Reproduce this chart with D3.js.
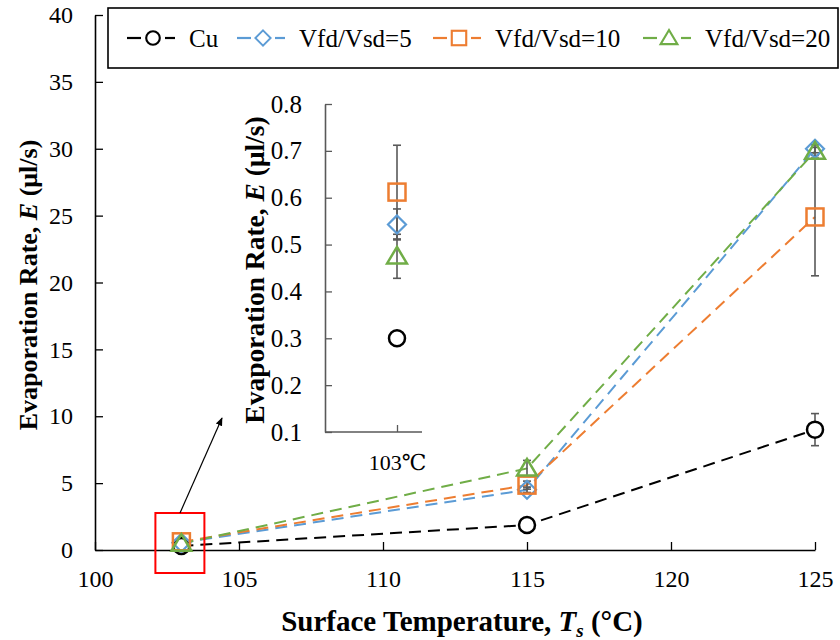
<!DOCTYPE html>
<html>
<head>
<meta charset="utf-8">
<script src="https://cdn.jsdelivr.net/npm/d3@7"></script>
<style>
  html, body { margin: 0; padding: 0; background: #fff; }
  svg, svg text { font-family: "Liberation Serif", "Times New Roman", Tinos, "DejaVu Serif", serif !important; }
  svg text { fill: #000; }
</style>
</head>
<body>
<svg id="chart" width="840" height="640"></svg>
<script>
// Surface temperatures (°C)
const temps = [103, 115, 125];

// Series names
const seriesNames = ["Cu", "Vfd/Vsd=5", "Vfd/Vsd=10", "Vfd/Vsd=20"];

// Evaporation rate E (µl/s) per series
const cuValues  = [0.30, 1.87, 9.0];
const vfd5Values  = [0.543, 4.5, 30.0];
const vfd10Values = [0.612, 4.85, 24.9];
const vfd20Values = [0.475, 6.1, 29.8];

// Error magnitudes (µl/s)
const cuErrors    = [0.008, 0.15, 1.2];
const vfd5Errors  = [0.033, 0.2, 0.3];
const vfd10Errors = [0.1, 0.3, 4.4];
const vfd20Errors = [0.047, 0.6, 0.3];

// Axis ticks
const xTicks = [100, 105, 110, 115, 120, 125];
const yTicks = [0, 5, 10, 15, 20, 25, 30, 35, 40];
const insetTicks = [0.1, 0.2, 0.3, 0.4, 0.5, 0.6, 0.7, 0.8];
const insetCategory = ["103℃"];

const colors = ["#000000", "#5B9BD5", "#ED7D31", "#70AD47"];
const shapes = ["circle", "diamond", "square", "triangle"];
const FONT = "'Liberation Serif', 'Times New Roman', Tinos, 'DejaVu Serif', serif";

const series = seriesNames.map((name, i) => ({
  name,
  color: colors[i],
  shape: shapes[i],
  values: [cuValues, vfd5Values, vfd10Values, vfd20Values][i],
  errors: [cuErrors, vfd5Errors, vfd10Errors, vfd20Errors][i]
}));

const svg = d3.select("#chart").attr("font-family", FONT);

// ---------- main chart ----------
const x = d3.scaleLinear().domain([100, 125]).range([95, 815]);
const y = d3.scaleLinear().domain([0, 40]).range([550, 15]);

function drawMarker(g, shape, cx, cy, color, s) {
  s = s || 1;
  if (shape === "circle") {
    g.append("circle").attr("cx", cx).attr("cy", cy).attr("r", 8 * s)
      .attr("fill", "#fff").attr("stroke", color).attr("stroke-width", 2.5 * s);
  } else if (shape === "square") {
    const h = 8.5 * s;
    g.append("rect").attr("x", cx - h).attr("y", cy - h).attr("width", 2 * h).attr("height", 2 * h)
      .attr("fill", "none").attr("stroke", color).attr("stroke-width", 2.5 * s);
  } else if (shape === "diamond") {
    const h = 9 * s;
    g.append("path").attr("d", `M${cx},${cy - h}L${cx + h},${cy}L${cx},${cy + h}L${cx - h},${cy}Z`)
      .attr("fill", "none").attr("stroke", color).attr("stroke-width", 2.2 * s);
  } else if (shape === "triangle") {
    const h = 9 * s;
    g.append("path").attr("d", `M${cx},${cy - h * 1.05}L${cx + h * 1.1},${cy + h * 0.8}L${cx - h * 1.1},${cy + h * 0.8}Z`)
      .attr("fill", "none").attr("stroke", color).attr("stroke-width", 2.5 * s);
  }
}

function drawErrorBar(g, cx, yTop, yBot, cap) {
  g.append("line").attr("x1", cx).attr("x2", cx).attr("y1", yTop).attr("y2", yBot)
    .attr("stroke", "#595959").attr("stroke-width", 1.6);
  [yTop, yBot].forEach(yy => g.append("line")
    .attr("x1", cx - cap).attr("x2", cx + cap).attr("y1", yy).attr("y2", yy)
    .attr("stroke", "#595959").attr("stroke-width", 1.6));
}

function styleTicks(g, color) {
  g.attr("font-family", FONT);
  g.selectAll(".tick line").attr("stroke", color).attr("stroke-width", 1.3);
  g.selectAll(".tick text").attr("font-family", FONT).attr("fill", "#000");
}

// axes
const xAxis = d3.axisBottom(x).tickValues(xTicks).tickSizeInner(-8).tickSizeOuter(0).tickPadding(20);
const gx = svg.append("g").attr("transform", "translate(0,550)").call(xAxis);
gx.select(".domain").attr("stroke", "#000").attr("stroke-width", 1.6);
styleTicks(gx, "#000");
gx.selectAll(".tick text").attr("font-size", 24);

const yAxis = d3.axisLeft(y).tickValues(yTicks).tickSizeInner(-8).tickSizeOuter(0).tickPadding(22);
const gy = svg.append("g").attr("transform", "translate(95,0)").call(yAxis);
gy.select(".domain").attr("stroke", "#000").attr("stroke-width", 1.6);
styleTicks(gy, "#000");
gy.selectAll(".tick text").attr("font-size", 24);

// axis titles
const yt = svg.append("text").attr("transform", "translate(37,285) rotate(-90)")
  .attr("text-anchor", "middle").attr("font-size", 26).attr("font-weight", "bold");
yt.append("tspan").text("Evaporation  Rate, ");
yt.append("tspan").attr("font-style", "italic").text("E");
yt.append("tspan").text(" (μl/s)");

const xt = svg.append("text").attr("x", 462).attr("y", 631)
  .attr("text-anchor", "middle").attr("font-size", 29).attr("font-weight", "bold");
xt.append("tspan").text("Surface Temperature,  ");
xt.append("tspan").attr("font-style", "italic").text("T");
xt.append("tspan").attr("font-style", "italic").attr("font-size", 19).attr("dy", 6).text("s");
xt.append("tspan").attr("dy", -6).text(" (°C)");

// dashed series lines
const line = d3.line().x((d, i) => x(temps[i])).y(d => y(d));
const gLines = svg.append("g");
series.forEach(s => {
  gLines.append("path").datum(s.values).attr("d", line)
    .attr("fill", "none").attr("stroke", s.color).attr("stroke-width", 2)
    .attr("stroke-dasharray", "12,7");
});

// error bars
const gErr = svg.append("g");
series.forEach(s => {
  s.values.forEach((v, i) => {
    drawErrorBar(gErr, x(temps[i]), y(v + s.errors[i]), y(v - s.errors[i]), 4);
  });
});

// markers
const gMarks = svg.append("g");
series.forEach(s => {
  s.values.forEach((v, i) => drawMarker(gMarks, s.shape, x(temps[i]), y(v), s.color));
});

// highlight box and arrow toward the inset
svg.append("defs").append("marker").attr("id", "arrowHead")
  .attr("viewBox", "0 0 10 10").attr("refX", 9).attr("refY", 5)
  .attr("markerWidth", 7).attr("markerHeight", 7).attr("orient", "auto")
  .append("path").attr("d", "M0,1L10,5L0,9Z").attr("fill", "#000");
svg.append("rect").attr("x", x(103) - 26).attr("y", 513).attr("width", 49).attr("height", 60)
  .attr("fill", "none").attr("stroke", "#FF0000").attr("stroke-width", 2);
svg.append("line").attr("x1", 180).attr("y1", 513).attr("x2", 222).attr("y2", 418)
  .attr("stroke", "#000").attr("stroke-width", 1.2).attr("marker-end", "url(#arrowHead)");

// legend
svg.append("rect").attr("x", 108).attr("y", 8).attr("width", 730).attr("height", 60)
  .attr("fill", "#fff").attr("stroke", "#000").attr("stroke-width", 1.6);
const legendX = [127, 237, 433, 643];
series.forEach((s, i) => {
  const g = svg.append("g");
  const lx = legendX[i], ly = 38;
  g.append("line").attr("x1", lx).attr("x2", lx + 14).attr("y1", ly).attr("y2", ly)
    .attr("stroke", s.color).attr("stroke-width", 2.2);
  g.append("line").attr("x1", lx + 38).attr("x2", lx + 48).attr("y1", ly).attr("y2", ly)
    .attr("stroke", s.color).attr("stroke-width", 2.2);
  drawMarker(g, s.shape, lx + 26, ly, s.color, 0.85);
  g.append("text").attr("x", lx + 62).attr("y", ly + 9).attr("font-size", 25).text(s.name);
});

// ---------- inset ----------
const ix = d3.scaleBand().domain(insetCategory).range([325, 469]).paddingInner(0).paddingOuter(0);
const iy = d3.scaleLinear().domain([0.1, 0.8]).range([432, 104]);
const insetX = d => ix(d) + 72;

const ixAxis = d3.axisBottom(d3.scalePoint().domain(insetCategory).range([397, 397]))
  .tickSizeInner(-7).tickSizeOuter(0).tickPadding(22);
const gix = svg.append("g").attr("transform", "translate(0,432)").call(ixAxis);
gix.select(".domain").remove();
gix.append("line").attr("x1", 325).attr("x2", 422).attr("y1", 0).attr("y2", 0)
  .attr("stroke", "#595959").attr("stroke-width", 1.6);
styleTicks(gix, "#595959");
gix.selectAll(".tick text").attr("font-size", 22);

const iyAxis = d3.axisLeft(iy).tickValues(insetTicks).tickFormat(d3.format(".1f"))
  .tickSizeInner(-7).tickSizeOuter(0).tickPadding(23);
const giy = svg.append("g").attr("transform", "translate(325,0)").call(iyAxis);
giy.select(".domain").attr("stroke", "#595959").attr("stroke-width", 1.6);
styleTicks(giy, "#595959");
giy.selectAll(".tick text").attr("font-size", 25);

const iyt = svg.append("text").attr("transform", "translate(264,270) rotate(-90)")
  .attr("text-anchor", "middle").attr("font-size", 27.5).attr("font-weight", "bold");
iyt.append("tspan").text("Evaporation Rate, ");
iyt.append("tspan").attr("font-style", "italic").text("E");
iyt.append("tspan").text(" (μl/s)");

const gIErr = svg.append("g");
series.forEach(s => {
  const v = s.values[0], e = s.errors[0];
  drawErrorBar(gIErr, insetX(insetCategory[0]), iy(v + e), iy(v - e), 4);
});
const gIMarks = svg.append("g");
series.forEach(s => {
  drawMarker(gIMarks, s.shape, insetX(insetCategory[0]), iy(s.values[0]), s.color);
});
</script>
</body>
</html>
